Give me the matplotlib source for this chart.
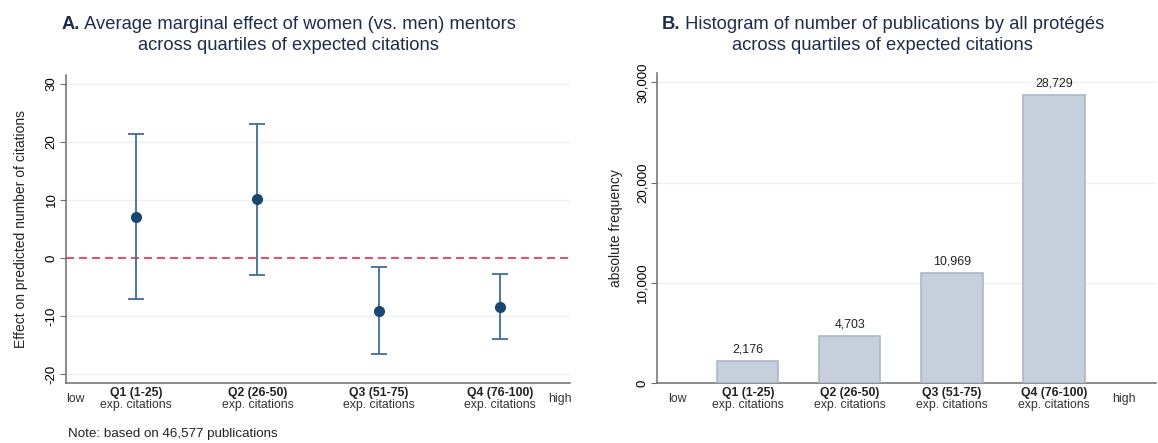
import matplotlib.pyplot as plt
import matplotlib.transforms as mtransforms
from matplotlib import font_manager as fm

# keep the regular-width Liberation Sans only
fm.fontManager.ttflist = [f for f in fm.fontManager.ttflist if 'Narrow' not in f.fname]
plt.rcParams['font.family'] = ['Liberation Sans', 'DejaVu Sans']
plt.rcParams['axes.unicode_minus'] = False

# data
quartiles = ['Q1 (1-25)', 'Q2 (26-50)', 'Q3 (51-75)', 'Q4 (76-100)']
effect = [7.1, 10.1, -9.1, -8.4]
ci_low = [-7.1, -2.9, -16.5, -14.0]
ci_high = [21.3, 23.1, -1.6, -2.8]
publications = [2176, 4703, 10969, 28729]

navy = '#1a476f'
bar_face = '#c5d0dc'
bar_edge = '#a9b9c9'
grid_col = '#eaf2f3'
spine_col = '#6e6e6e'
title_col = '#1e2d4a'

W, H = 1158, 443
fig = plt.figure(figsize=(W / 100, H / 100), dpi=100)
renderer = fig.canvas.get_renderer()

def px_axes(x0, x1, ytop, ybot):
    return fig.add_axes([x0 / W, (H - ybot) / H, (x1 - x0) / W, (ybot - ytop) / H])

def style(ax):
    for s in ['top', 'right']:
        ax.spines[s].set_visible(False)
    for s in ['left', 'bottom']:
        ax.spines[s].set_color(spine_col)
        ax.spines[s].set_linewidth(1.1)
    ax.tick_params(axis='y', length=4, color=spine_col, labelsize=9.5, pad=2)
    ax.tick_params(axis='x', length=0, labelbottom=False)
    for lab in ax.get_yticklabels():
        lab.set_rotation(90)
        lab.set_va('center')
    ax.yaxis.grid(True, color=grid_col, linewidth=1)
    ax.set_axisbelow(True)

def xlabels(ax, low_x, high_x):
    tr = mtransforms.blended_transform_factory(ax.transData, ax.transAxes)
    off1 = mtransforms.offset_copy(tr, fig=fig, y=-10, units='dots')
    off2 = mtransforms.offset_copy(tr, fig=fig, y=-22, units='dots')
    off3 = mtransforms.offset_copy(tr, fig=fig, y=-16, units='dots')
    xs = range(1, len(quartiles) + 1)
    for x, q in zip(xs, quartiles):
        ax.text(x, 0, q, transform=off1, ha='center', va='center',
                fontsize=8.8, fontweight='bold', color='#222222')
        ax.text(x, 0, 'exp. citations', transform=off2, ha='center', va='center',
                fontsize=8.8, color='#333333')
    ax.text(low_x, 0, 'low', transform=off3, ha='center', va='center',
            fontsize=8.8, color='#333333')
    ax.text(high_x, 0, 'high', transform=off3, ha='center', va='center',
            fontsize=8.8, color='#333333')

def title(cx, letter, line1, line2, size=13.2):
    y1, y2 = 1 - 29 / H, 1 - 50 / H
    t1 = fig.text(0, y1, letter, ha='left', va='baseline', fontsize=size,
                  fontweight='bold', color=title_col)
    t2 = fig.text(0, y1, ' ' + line1, ha='left', va='baseline', fontsize=size, color=title_col)
    w1 = t1.get_window_extent(renderer).width
    w2 = t2.get_window_extent(renderer).width
    left = cx - (w1 + w2) / 2
    t1.set_x(left / W)
    t2.set_x((left + w1) / W)
    fig.text(cx / W, y2, line2, ha='center', va='baseline', fontsize=size, color=title_col)

# panel A
ax1 = px_axes(66, 570, 75, 383)
pos = [1, 2, 3, 4]
yerr = [[e - l for e, l in zip(effect, ci_low)], [h - e for e, h in zip(effect, ci_high)]]
ax1.errorbar(pos, effect, yerr=yerr, fmt='none', ecolor='#416c96',
             elinewidth=1.3, capsize=6, capthick=1.3, zorder=3)
ax1.plot(pos, effect, 'o', color=navy, markersize=7, zorder=4)
ax1.axhline(0, color='#e0305a', linestyle=(0, (4.8, 3)), linewidth=1.2, zorder=2)
ax1.set_xlim(0.42, 4.58)
ax1.set_ylim(-21.55, 31.55)
ax1.set_yticks([-20, -10, 0, 10, 20, 30])
ax1.set_ylabel('Effect on predicted number of citations', fontsize=10, color='#222222',
               labelpad=13)
style(ax1)
xlabels(ax1, 0.5, 4.5)

title(288.6, 'A.', 'Average marginal effect of women (vs. men) mentors',
      'across quartiles of expected citations')
fig.text(68 / W, 1 - 434 / H, 'Note: based on 46,577 publications',
         ha='left', va='center', fontsize=9.6, color='#222222')

# panel B
ax2 = px_axes(657, 1156, 73, 383)
ax2.bar(pos, publications, width=0.6, color=bar_face, edgecolor=bar_edge, linewidth=1.2, zorder=3)
for x, v in zip(pos, publications):
    ax2.annotate(f'{v:,}', (x, v), xytext=(0, 4), textcoords='offset points',
                 ha='center', va='bottom', fontsize=8.9, color='#222222')
ax2.set_xlim(0.11, 5.0)
ax2.set_ylim(0, 30930)
ax2.set_yticks([0, 10000, 20000, 30000])
ax2.set_yticklabels(['0', '10,000', '20,000', '30,000'])
ax2.set_ylabel('absolute frequency', fontsize=10, color='#222222', labelpad=10)
style(ax2)
xlabels(ax2, 0.306, 4.69)

title(882.7, 'B.', 'Histogram of number of publications by all protégés',
      'across quartiles of expected citations')

fig.savefig('out.png', dpi=100)
